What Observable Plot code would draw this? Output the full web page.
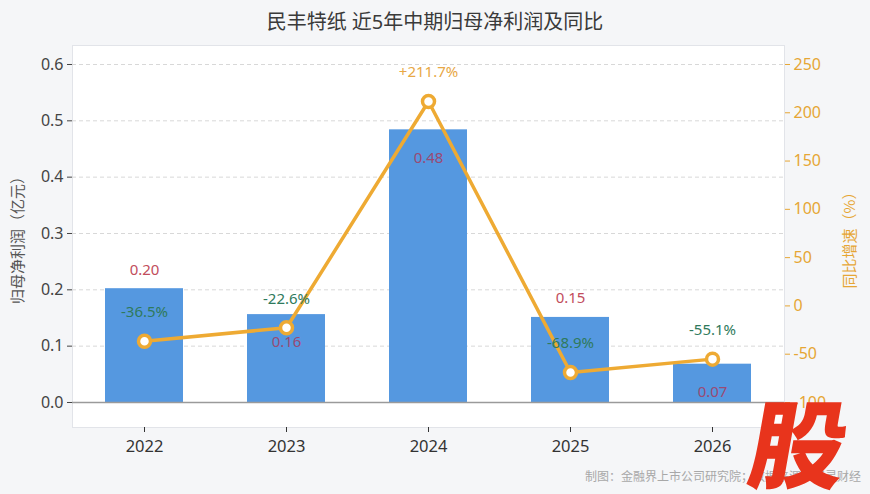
<!DOCTYPE html>
<html>
<head>
<meta charset="utf-8">
<script src="https://cdn.jsdelivr.net/npm/d3@7"></script>
<script src="https://cdn.jsdelivr.net/npm/@observablehq/plot@0.6"></script>
<style>
  html, body { margin: 0; padding: 0; background: #f5f6f8; }
  body { width: 870px; height: 494px; position: relative; overflow: hidden; font-family: "Noto Sans", "Noto Sans CJK SC", sans-serif; }
  #title { position: absolute; left: 0; width: 870px; top: 7px; text-align: center; font-size: 20px; color: #3a3a3a; line-height: 30px; }
  #chart { position: absolute; left: 0; top: 0; }
  #footer { position: absolute; right: 9px; top: 467px; font-size: 12px; color: #a8a8a8; font-family: "Noto Sans CJK SC", sans-serif; }
  #logo { position: absolute; left: 752px; top: 392px; font-size: 96px; font-weight: 900; color: #e8341c; transform: skewX(-10deg); line-height: 1; font-family: "Noto Sans CJK SC", sans-serif; }
</style>
</head>
<body>
<div id="chart"></div>
<div id="title">民丰特纸 近5年中期归母净利润及同比</div>
<div id="footer">制图：金融界上市公司研究院；数据来源：巨灵财经</div>
<div id="logo">股</div>
<script>
const years = ["2022", "2023", "2024", "2025", "2026"];
const profit = [0.202, 0.156, 0.484, 0.151, 0.068];
const yoy = [-36.5, -22.6, 211.7, -68.9, -55.1];
const leftTicks = [0, 0.1, 0.2, 0.3, 0.4, 0.5, 0.6];
const rightTicks = [-100, -50, 0, 50, 100, 150, 200, 250];

const W = 870, H = 494;
const mT = 45, mB = 67, mL = 72, mR = 86;
const yDomain = [-0.0444, 0.6337];
const conv = p => (p + 100) * 0.6 / 350;
const inv = v => v * 350 / 0.6 - 100;

const data = years.map((y, i) => ({year: y, v: profit[i], p: yoy[i], pv: conv(yoy[i])}));
const sy = Plot.scale({y: {domain: yDomain, range: [H - mB, mT]}});
data.forEach(d => {
  const top = sy.apply(d.v), pt = sy.apply(d.pv);
  const aboveY = top - 19, pctY = pt - 29;
  d.inside = pt < top || Math.abs(aboveY - pctY) < 18;
});

const orange = "#eeaa33";
const chart = Plot.plot({
  width: W, height: H,
  marginTop: mT, marginBottom: mB, marginLeft: mL, marginRight: mR,
  style: {fontFamily: '"Noto Sans", "Noto Sans CJK SC", sans-serif', background: "transparent"},
  x: {domain: years, paddingInner: 0.45, paddingOuter: 0.225, label: null},
  y: {domain: yDomain, label: null},
  marks: [
    Plot.frame({fill: "white", stroke: "#e2e4e9"}),
    Plot.gridY(leftTicks.filter(t => t > 0), {stroke: "#d8d8d8", strokeOpacity: 1, strokeDasharray: "4,3"}),
    Plot.barY(data, {x: "year", y: "v", fill: "#5598e0"}),
    Plot.ruleY([0], {stroke: "#9a9a9a", strokeWidth: 1.5}),
    Plot.line(data, {x: "year", y: "pv", stroke: orange, strokeWidth: 3.5}),
    Plot.dot(data, {x: "year", y: "pv", r: 6, fill: "white", stroke: orange, strokeWidth: 3.5}),
    Plot.text(data.filter(d => !d.inside), {x: "year", y: "v", text: d => d.v.toFixed(2), dy: -19, fill: "#c24d5c", fontSize: 15}),
    Plot.text(data.filter(d => d.inside), {x: "year", y: "v", text: d => d.v.toFixed(2), dy: 28, fill: "#9a4a74", fontSize: 15}),
    Plot.text(data.filter(d => d.p < 0), {x: "year", y: "pv", text: d => d.p.toFixed(1) + "%", dy: -29, fill: "#2f7a5c", fontSize: 15}),
    Plot.text(data.filter(d => d.p >= 0), {x: "year", y: "pv", text: d => "+" + d.p.toFixed(1) + "%", dy: -29, fill: "#e8a845", fontSize: 15}),
    Plot.axisY({ticks: leftTicks, tickFormat: d3.format(".1f"), tickSize: 5, tickPadding: 4, fontSize: 16, color: "#444", label: null}),
    Plot.axisY({anchor: "right", ticks: rightTicks.map(conv), tickFormat: v => String(Math.round(inv(v))), tickSize: 5, tickPadding: 4, fontSize: 16, color: "#e6a635", label: null}),
    Plot.axisX({tickSize: 5, tickPadding: 8, fontSize: 16.5, color: "#333", label: null}),
    Plot.text(["归母净利润（亿元）"], {frameAnchor: "left", dx: -54, rotate: -90, textAnchor: "middle", fill: "#555", fontSize: 15, fontFamily: "Noto Sans CJK SC"}),
    Plot.text(["同比增速（%）"], {frameAnchor: "right", dx: 66, rotate: -90, textAnchor: "middle", fill: "#e6a635", fontSize: 15, fontFamily: "Noto Sans CJK SC"})
  ]
});
document.getElementById("chart").appendChild(chart);
</script>
</body>
</html>
